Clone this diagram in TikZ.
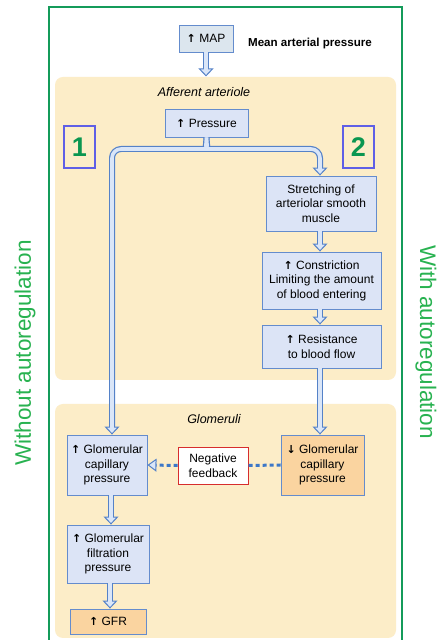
\documentclass[tikz,border=0pt]{standalone}
\usepackage{fontspec}
\setmainfont{Liberation Sans}
\newfontfamily\arrfont{DejaVu Sans}
\usetikzlibrary{arrows.meta}
\definecolor{frameg}{RGB}{20,155,90}
\definecolor{textg}{RGB}{40,178,80}
\definecolor{numg}{RGB}{10,150,80}
\definecolor{numline}{RGB}{95,95,230}
\definecolor{ylw}{RGB}{252,237,200}
\definecolor{boxfill}{RGB}{220,228,246}
\definecolor{mapfill}{RGB}{220,230,238}
\definecolor{boxline}{RGB}{100,140,205}
\definecolor{tubeline}{RGB}{85,130,200}
\definecolor{tubefill}{RGB}{218,230,248}
\definecolor{orfill}{RGB}{250,212,160}
\definecolor{nfred}{RGB}{215,45,45}
\definecolor{dotblue}{RGB}{60,120,200}
\newcommand\tubearrow[2]{%
  \draw[tubeo,thead] #1 -- #2;
  \draw[tubei,shorten >=5.5pt] #1 -- #2;}
\newcommand\upa{{\arrfont\bfseries\fontsize{11}{12}\selectfont ↑}}
\newcommand\dna{{\arrfont\bfseries\fontsize{11}{12}\selectfont ↓}}
\begin{document}
\begin{tikzpicture}[x=1pt,y=1pt,
  box/.style={draw=boxline, line width=0.9pt, fill=boxfill, align=center,
    inner sep=0pt, font=\fontsize{12}{14.5}\selectfont},
  numbox/.style={draw=numline, line width=1.3pt, minimum width=31pt, minimum height=42pt,
    inner sep=0pt, text=numg, font=\bfseries\fontsize{27}{30}\selectfont},
  sidetext/.style={text=textg, font=\fontsize{22.5}{26}\selectfont, inner sep=0pt},
  region/.style={fill=ylw, rounded corners=8pt},
  title/.style={font=\itshape\fontsize{12.5}{15}\selectfont, inner sep=0pt},
  tubeo/.style={line width=6pt, draw=tubeline, line join=round},
  tubei/.style={line width=3.6pt, draw=tubefill, line join=round},
  thead/.style={-{Triangle[length=8pt,width=15pt,line width=1pt,fill=tubefill]}},
  dots/.style={draw=dotblue, line width=3pt, dash pattern=on 4pt off 3pt}]
\useasboundingbox (0,0) rectangle (437,640);
\clip (0,0) rectangle (437,640);
\fill[white] (0,0) rectangle (437,640);
% regions
\fill[region] (55,260) rectangle (396,563);
\fill[region] (55,2) rectangle (396,236);
\draw[frameg, line width=2pt] (49,-5) rectangle (402,633);
% side texts
\node[sidetext, rotate=90] (wo) at (25,287) {Without autoregulation};
\node[sidetext, rotate=-90] (wi) at (426,298) {With autoregulation};
% top
\node[box, fill=mapfill, minimum width=54pt, minimum height=27pt] (map) at (206,601.5) {\upa\ MAP};
\node[font=\bfseries\fontsize{11.6}{14}\selectfont, inner sep=0pt] (mlabel) at (310,596) {Mean arterial pressure};
\coordinate (ytop) at (206,563.5);
% afferent arteriole
\node[title] (aa) at (204,548) {Afferent arteriole};
\node[box, minimum width=83pt, minimum height=28pt] (pr) at (206.5,517) {\upa\ Pressure};
\node[numbox] (n1) at (79.5,493) {1};
\node[numbox] (n2) at (358.5,493) {2};
\node[box, minimum width=110pt, minimum height=55pt] (st) at (321,436.5) {Stretching of\\arteriolar smooth\\muscle};
\node[box, minimum width=119pt, minimum height=57pt] (co) at (321.5,359.5) {\upa\ Constriction\\Limiting the amount\\of blood entering};
\node[box, minimum width=119pt, minimum height=43pt] (rs) at (321.5,293.5) {\upa\ Resistance\\to blood flow};
% glomeruli
\node[title] (gl) at (214,221) {Glomeruli};
\node[box, minimum width=80pt, minimum height=60pt] (lg) at (107,175) {\upa\ Glomerular\\capillary\\pressure};
\node[box, draw=nfred, fill=white, minimum width=70pt, minimum height=37pt] (nf) at (213,174.5) {Negative\\feedback};
\node[box, fill=orfill, minimum width=83pt, minimum height=60pt] (rg) at (322.5,175) {\dna\ Glomerular\\capillary\\pressure};
\node[box, minimum width=82pt, minimum height=58pt] (gp) at (108,86) {\upa\ Glomerular\\filtration\\pressure};
\node[box, fill=orfill, minimum width=76pt, minimum height=25pt] (gfr) at (108,18.5) {\upa\ GFR};
% tubes
\tubearrow{(map.south)}{(ytop)}
\draw[tubeo,thead,rounded corners=9pt] (pr.south) to[out=-90,in=0] (199,491) -- (112,491) -- (lg.north -| 112,0);
\draw[tubeo,thead,rounded corners=9pt] (pr.south) to[out=-90,in=180] (214,491) -- (320,491) -- (st.north -| 320,0);
\draw[tubei,shorten >=5.5pt,rounded corners=9pt] (pr.south) to[out=-90,in=0] (199,491) -- (112,491) -- (lg.north -| 112,0);
\draw[tubei,shorten >=5.5pt,rounded corners=9pt] (pr.south) to[out=-90,in=180] (214,491) -- (320,491) -- (st.north -| 320,0);
\tubearrow{(st.south -| 320,0)}{(co.north -| 320,0)}
\tubearrow{(co.south -| 320,0)}{(rs.north -| 320,0)}
\tubearrow{(rs.south -| 320,0)}{(rg.north -| 320,0)}
\tubearrow{(lg.south -| 111,0)}{(gp.north -| 111,0)}
\tubearrow{(gp.south -| 110,0)}{(gfr.north -| 110,0)}
% dotted feedback
\draw[dots] (rg.west) -- (nf.east);
\draw[dots, -{Triangle[length=9pt,width=13pt,line width=1pt,fill=tubefill,color=tubeline]}] (nf.west) -- (lg.east);
\end{tikzpicture}
\end{document}
